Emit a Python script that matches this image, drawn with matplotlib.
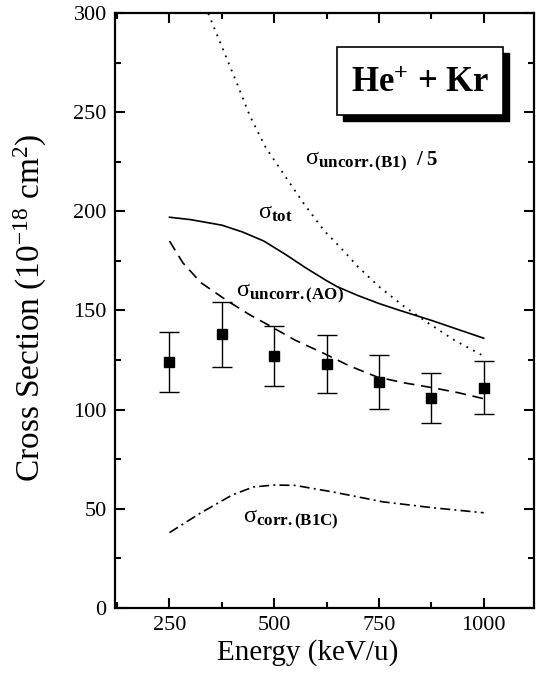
import numpy as np
import matplotlib
matplotlib.use("Agg")
import matplotlib.pyplot as plt
from matplotlib.patches import Rectangle
from matplotlib.ticker import MultipleLocator

plt.rcParams['font.family'] = ['Liberation Serif', 'DejaVu Serif']
plt.rcParams['mathtext.fontset'] = 'custom'
plt.rcParams['mathtext.rm'] = 'Liberation Serif'
plt.rcParams['mathtext.bf'] = 'Liberation Serif:bold'
plt.rcParams['mathtext.it'] = 'Liberation Serif:italic'

# measured points
exp_energy = [250, 375, 500, 625, 750, 875, 1000]
exp_sigma = [124, 138, 127, 123, 114, 106, 111]
exp_err = [15, 16.5, 15, 14.5, 13.5, 12.7, 13.4]

# theory curves
tot_energy = [250, 300, 375, 425, 475, 525, 575, 625, 650, 700, 750, 800, 875, 1000]
tot_sigma = [197, 195.8, 193, 189.5, 185, 178.5, 171.5, 165, 162, 157.5, 153.5, 150, 145, 136]

ao_energy = [250, 282, 325, 387, 440, 483, 550, 616, 680, 745, 810, 879, 940, 1000]
ao_sigma = [185, 174, 164, 155, 148, 143, 135, 128.6, 122, 116.5, 113.5, 111, 108.5, 105.5]

b1_energy = [330, 342, 375, 410, 442, 480, 525, 570, 620, 657, 700, 750, 810, 865, 930, 1000]
b1_sigma = [308, 300, 283, 265, 248, 232, 218, 204, 190, 182, 172, 162, 152, 144, 135, 127]

b1c_energy = [250, 325, 400, 450, 500, 550, 640, 760, 880, 1000]
b1c_sigma = [38, 48, 57, 61, 62, 61.8, 58.5, 53.5, 50.5, 48]

fig = plt.figure(figsize=(5.36, 6.8), dpi=100)
ax = fig.add_axes([0.2146, 0.1059, 0.7817, 0.8751])

ax.plot(tot_energy, tot_sigma, '-', color='black', lw=1.2)
ax.plot(ao_energy, ao_sigma, color='black', lw=1.2, dashes=(6.5, 4))
ax.plot(b1_energy, b1_sigma, color='black', lw=1.3, dashes=(1, 3.2))
ax.plot(b1c_energy, b1c_sigma, color='black', lw=1.2, dashes=(6, 2.5, 1.2, 2.5))
ax.errorbar(exp_energy, exp_sigma, yerr=exp_err, fmt='s', color='black',
            ms=7, capsize=7, elinewidth=1.0, capthick=1.0)

ax.set_xlim(120, 1120)
ax.set_ylim(0, 300)
ax.xaxis.set_major_locator(MultipleLocator(250))
ax.xaxis.set_minor_locator(MultipleLocator(125))
ax.yaxis.set_major_locator(MultipleLocator(50))
ax.yaxis.set_minor_locator(MultipleLocator(25))
ax.tick_params(which='both', direction='in', top=True, right=True, labelsize=16, width=1.5, pad=6)
ax.tick_params(which='major', length=7)
ax.tick_params(which='minor', length=4)
for s in ax.spines.values():
    s.set_linewidth(1.6)

ax.set_xlabel('Energy (keV/u)', fontsize=21)
ax.set_ylabel(r'Cross Section (10$^{\mathregular{-18}}$ cm$^{\mathregular{2}}$)', fontsize=24)
ax.xaxis.set_label_coords(0.46, -0.052)
ax.yaxis.set_label_coords(-0.158, 0.505)

# labels on the curves (figure fractions)
ax.text(0.569, 0.757, r'$\mathrm{\sigma}_{\mathbf{uncorr.(B1)}}$', transform=fig.transFigure, fontsize=17.5)
ax.text(0.776, 0.757, '/ 5', transform=fig.transFigure, fontsize=15, fontweight='bold')
ax.text(0.481, 0.679, r'$\mathrm{\sigma}_{\mathbf{tot}}$', transform=fig.transFigure, fontsize=17.5)
ax.text(0.440, 0.563, r'$\mathrm{\sigma}_{\mathbf{uncorr.(AO)}}$', transform=fig.transFigure, fontsize=17.5)
ax.text(0.453, 0.231, r'$\mathrm{\sigma}_{\mathbf{corr.(B1C)}}$', transform=fig.transFigure, fontsize=17.5)

# title box with drop shadow
fig.patches.append(Rectangle((343 / 536, 1 - 121 / 680), 166 / 536, 68 / 680,
                             transform=fig.transFigure, facecolor='black', edgecolor='black', zorder=5))
fig.patches.append(Rectangle((337 / 536, 1 - 115 / 680), 166 / 536, 68 / 680,
                             transform=fig.transFigure, facecolor='white', edgecolor='black', lw=1.2, zorder=6))
fig.text(420 / 536, 1 - 83 / 680, r'He$^{\mathbf{+}}$ + Kr', ha='center', va='center',
         fontsize=25, fontweight='bold', zorder=7)

fig.savefig('out.png', dpi=100)
